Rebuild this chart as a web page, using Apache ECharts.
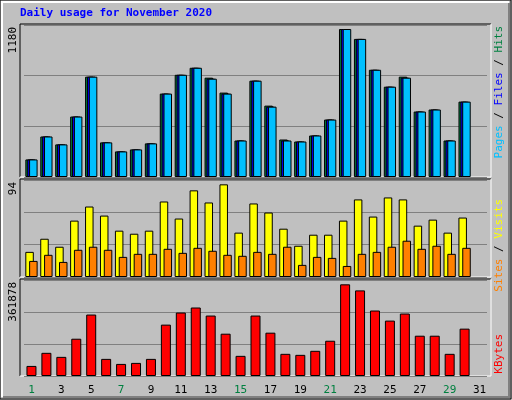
<!DOCTYPE html>
<html><head><meta charset="utf-8">
<script src="https://cdn.jsdelivr.net/npm/echarts@6/dist/echarts.min.js"></script>
<style>html,body{margin:0;padding:0;background:#c0c0c0}#c{width:512px;height:400px}</style>
</head><body><div id="c"></div>
<script>
const days = ['1','2','3','4','5','6','7','8','9','10','11','12','13','14','15','16','17','18','19','20','21','22','23','24','25','26','27','28','29','30','31'];
const weekendDays = ['1','7','8','14','15','21','22','28','29'];
const hits = [140,323,260,482,800,276,204,220,268,665,815,871,792,673,291,768,569,299,283,331,458,1180,1101,855,720,800,522,538,291,601];
const files = [140,323,260,482,800,276,204,220,268,665,815,871,784,665,291,768,561,291,283,331,458,1180,1101,855,720,792,522,538,291,601];
const pages = [140,323,260,482,800,276,204,220,268,665,815,871,784,665,291,768,561,291,283,331,458,1180,1101,855,720,792,522,538,291,601];
const visits = [25.5,38.8,30.7,57.2,71.5,62.3,47,43.9,47,76.6,59.3,87.9,75.6,94,45,74.6,65.4,49,31.7,42.9,42.9,57.2,78.7,61.3,80.7,78.7,52.1,58.2,45,60.3];
const sites = [16.3,22.5,15.3,27.6,30.7,27.6,20.4,23.5,23.5,28.6,24.5,29.6,26.6,22.5,21.5,25.5,23.5,30.7,12.3,20.4,19.4,11.2,23.5,25.5,30.7,36.8,28.6,31.7,23.5,29.6];
const kbytes = [39768,91466,75559,147142,242585,67606,47722,51698,67606,202817,250538,270422,238608,167026,79536,238608,171002,87490,83513,99420,139188,361878,338028,258492,218724,246562,159072,159072,87490,186910];
const maxLabels = ['1180','94','361878'];

const C = {hits:'#008040', files:'#0000ff', pages:'#00c0ff', visits:'#ffff00', sites:'#ff8000', kb:'#ff0000'};
const font = '"DejaVu Sans Mono", monospace';
const ch = echarts.init(document.getElementById('c'));
const panels = [{top:25,h:152,max:1212},{top:180,h:97,max:98.4},{top:280,h:96,max:379000}];
const grids = panels.map(p=>({left:24,width:463,top:p.top,height:p.h}));
const xAxes = panels.map((p,i)=>({type:'category',gridIndex:i,data:days,
  axisLine:{show:false},axisTick:{show:false},
  axisLabel:{show:i===2,fontFamily:font,fontSize:11,margin:9,
    color:(v)=>weekendDays.includes(v)?'#008040':'#000000'}}));
const yAxes = panels.map((p,i)=>({type:'value',gridIndex:i,min:0,max:p.max,interval:p.max/3,
  axisLabel:{show:false},axisLine:{show:false},axisTick:{show:false},
  splitLine:{lineStyle:{color:'#808080',width:1}}}));
const bs = {borderColor:'#000',borderWidth:1};
const series = [
 {type:'bar',xAxisIndex:0,yAxisIndex:0,data:hits,barWidth:8.5,barGap:'-78%',itemStyle:{color:C.hits,...bs},animation:false},
 {type:'bar',xAxisIndex:0,yAxisIndex:0,data:files,barWidth:8.5,barGap:'-78%',itemStyle:{color:C.files,...bs},animation:false},
 {type:'bar',xAxisIndex:0,yAxisIndex:0,data:pages,barWidth:8.5,barGap:'-78%',itemStyle:{color:C.pages,...bs},animation:false},
 {type:'bar',xAxisIndex:1,yAxisIndex:1,data:visits,barWidth:8.5,barGap:'-55%',itemStyle:{color:C.visits,...bs},animation:false},
 {type:'bar',xAxisIndex:1,yAxisIndex:1,data:sites,barWidth:8.5,barGap:'-55%',itemStyle:{color:C.sites,...bs},animation:false},
 {type:'bar',xAxisIndex:2,yAxisIndex:2,data:kbytes,barWidth:10,itemStyle:{color:C.kb,...bs},animation:false}
];
const g = [
 {type:'rect',shape:{x:0,y:0,width:511,height:399},style:{fill:'#c0c0c0',stroke:'#000',lineWidth:1},z:-10},
 {type:'polyline',shape:{points:[[2,397],[2,2],[509,2]]},style:{stroke:'#ffffff',lineWidth:2,fill:null},z:-9},
 {type:'polyline',shape:{points:[[3,397],[509,397],[509,3]]},style:{stroke:'#808080',lineWidth:2,fill:null},z:-9},
 {type:'text',left:20,top:8,style:{text:'Daily usage for November 2020',fill:'#0000ff',font:'bold 11px '+font},z:5}
];
panels.forEach((p,i)=>{
  g.push({type:'polyline',shape:{points:[[20,p.top+p.h],[20,p.top-1],[491,p.top-1]]},style:{stroke:'#000',lineWidth:1,fill:null},z:-5});
  g.push({type:'polyline',shape:{points:[[20,p.top+p.h],[491,p.top+p.h],[491,p.top-1]]},style:{stroke:'#ffffff',lineWidth:1,fill:null},z:-5});
  g.push({type:'text',x:8,y:p.top+2,rotation:Math.PI/2,style:{text:maxLabels[i],fill:'#000',font:'11px '+font,align:'right',verticalAlign:'top'},z:5});
});
const rt=(x,y,text,rich)=>({type:'text',x:x,y:y,rotation:Math.PI/2,style:{text:text,rich:rich,font:'11px '+font,align:'right',verticalAlign:'top'},z:5});
g.push(rt(494,26,'{p|Pages}{s| / }{f|Files}{s| / }{h|Hits}',{p:{fill:C.pages,font:'11px '+font},f:{fill:C.files,font:'11px '+font},h:{fill:C.hits,font:'11px '+font},s:{fill:'#000',font:'11px '+font}}));
g.push(rt(494,199,'{a|Sites}{s| / }{b|Visits}',{a:{fill:C.sites,font:'11px '+font},b:{fill:C.visits,font:'11px '+font},s:{fill:'#000',font:'11px '+font}}));
g.push(rt(494,334,'{k|KBytes}',{k:{fill:C.kb,font:'11px '+font}}));
ch.setOption({animation:false,backgroundColor:'#c0c0c0',grid:grids,xAxis:xAxes,yAxis:yAxes,series:series,graphic:g});
</script></body></html>
